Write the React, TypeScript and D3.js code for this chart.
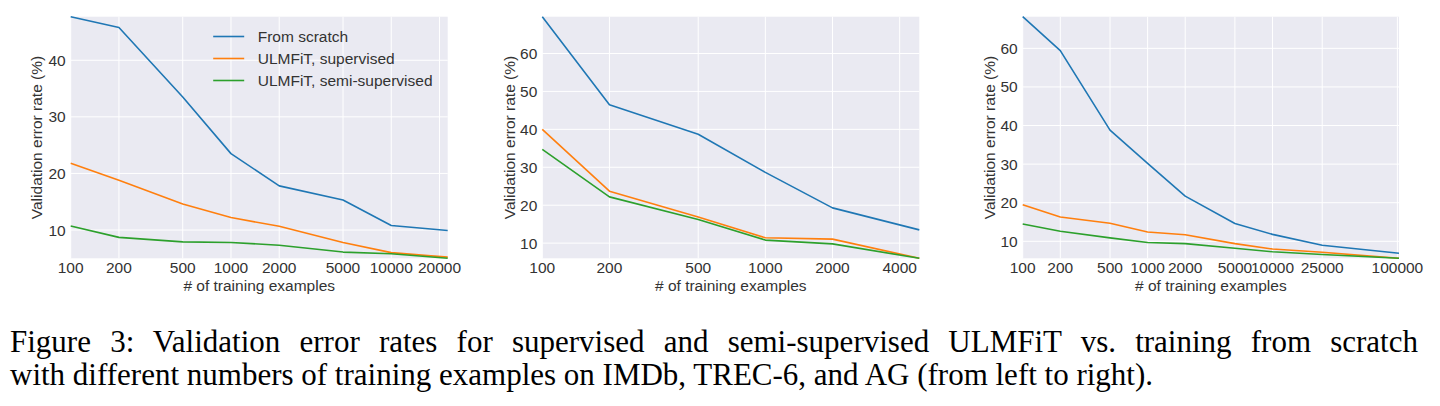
import React, { useLayoutEffect, useRef, useState } from "react";
import * as d3 from "d3";

// ---- Data ----
const seriesNames = ["From scratch", "ULMFiT, supervised", "ULMFiT, semi-supervised"];
const seriesColors = ["#1f77b4", "#ff7f0e", "#2ca02c"];

// IMDb
const imdbX = [100, 200, 500, 1000, 2000, 5000, 10000, 22500];
const imdbScratch = [47.7, 45.8, 33.5, 23.5, 17.8, 15.3, 10.8, 9.9];
const imdbSup = [21.8, 18.8, 14.6, 12.2, 10.65, 7.8, 6.0, 5.2];
const imdbSemi = [10.7, 8.7, 7.9, 7.8, 7.3, 6.1, 5.8, 5.0];
const imdbXTicks = [100, 200, 500, 1000, 2000, 5000, 10000, 20000];
const imdbYTicks = [10, 20, 30, 40];

// TREC-6
const trecX = [100, 200, 500, 1000, 2000, 4900];
const trecScratch = [69.7, 46.5, 38.7, 28.65, 19.3, 13.5];
const trecSup = [40.0, 23.7, 16.9, 11.4, 11.05, 6.0];
const trecSemi = [34.7, 22.2, 16.25, 10.8, 9.8, 6.0];
const trecXTicks = [100, 200, 500, 1000, 2000, 4000];
const trecYTicks = [10, 20, 30, 40, 50, 60];

// AG
const agX = [100, 200, 500, 1000, 2000, 5000, 10000, 25000, 103000];
const agScratch = [68.2, 59.4, 38.8, 30.2, 21.7, 14.6, 11.8, 9.0, 6.9];
const agSup = [19.5, 16.3, 14.7, 12.4, 11.7, 9.4, 8.0, 7.15, 5.6];
const agSemi = [14.5, 12.6, 10.9, 9.7, 9.4, 8.2, 7.3, 6.6, 5.6];
const agXTicks = [100, 200, 500, 1000, 2000, 5000, 10000, 25000, 100000];
const agYTicks = [10, 20, 30, 40, 50, 60];

const xLabel = "# of training examples";
const yLabel = "Validation error rate (%)";
const captionLine1 =
  "Figure 3: Validation error rates for supervised and semi-supervised ULMFiT vs. training from scratch";
const captionLine2 =
  "with different numbers of training examples on IMDb, TREC-6, and AG (from left to right).";

const FONT = "'Liberation Sans', Arial, sans-serif";
const SERIF = "'Liberation Serif', 'Times New Roman', serif";
const TXT = "#333333";
const FS = 15.5;

type PanelProps = {
  left: number;
  right: number;
  top: number;
  bottom: number;
  xs: number[];
  ys: number[][];
  xTicks: number[];
  yTicks: number[];
  yLabelX: number;
  legend?: boolean;
};

function Panel({ left, right, top, bottom, xs, ys, xTicks, yTicks, yLabelX, legend }: PanelProps) {
  const all = ys.flat();
  const x = d3.scaleLog().domain([xs[0], xs[xs.length - 1]]).range([left, right]);
  const y = d3.scaleLinear().domain([d3.min(all)!, d3.max(all)!]).range([bottom, top]);
  const line = d3
    .line<[number, number]>()
    .x((d) => x(d[0]))
    .y((d) => y(d[1]));
  const cy = (top + bottom) / 2;
  return (
    <g>
      <rect x={left} y={top} width={right - left} height={bottom - top} fill="#eaeaf2" />
      {xTicks.map((t) => (
        <line key={"gx" + t} x1={x(t)} x2={x(t)} y1={top} y2={bottom} stroke="#fff" strokeWidth={1} />
      ))}
      {yTicks.map((t) => (
        <line key={"gy" + t} x1={left} x2={right} y1={y(t)} y2={y(t)} stroke="#fff" strokeWidth={1} />
      ))}
      {ys.map((s, i) => (
        <path
          key={"s" + i}
          d={line(xs.map((xv, j) => [xv, s[j]] as [number, number])) || ""}
          fill="none"
          stroke={seriesColors[i]}
          strokeWidth={1.6}
          strokeLinejoin="round"
        />
      ))}
      {xTicks.map((t) => (
        <text
          key={"tx" + t}
          x={x(t)}
          y={bottom + 15}
          textAnchor="middle"
          fontFamily={FONT}
          fontSize={FS}
          fill={TXT}
        >
          {String(t)}
        </text>
      ))}
      {yTicks.map((t) => (
        <text
          key={"ty" + t}
          x={left - 5}
          y={y(t) + 5.5}
          textAnchor="end"
          fontFamily={FONT}
          fontSize={FS}
          fill={TXT}
        >
          {String(t)}
        </text>
      ))}
      <text
        x={(left + right) / 2}
        y={bottom + 33}
        textAnchor="middle"
        fontFamily={FONT}
        fontSize={FS}
        fill={TXT}
      >
        {xLabel}
      </text>
      <text
        transform={`translate(${yLabelX + 5.5},${cy}) rotate(-90)`}
        textAnchor="middle"
        fontFamily={FONT}
        fontSize={FS}
        fill={TXT}
      >
        {yLabel}
      </text>
      {legend &&
        seriesNames.map((n, i) => (
          <g key={"lg" + i}>
            <line
              x1={left + 142.5}
              x2={left + 173.5}
              y1={36.5 + i * 22}
              y2={36.5 + i * 22}
              stroke={seriesColors[i]}
              strokeWidth={1.6}
            />
            <text x={left + 187} y={36.5 + i * 22 + 5.5} fontFamily={FONT} fontSize={FS} fill={TXT}>
              {n}
            </text>
          </g>
        ))}
    </g>
  );
}

export default function App() {
  const top = 16.7;
  const bottom = 258.3;
  const capFS = 31;
  const line1Target = 1408;
  const ref1 = useRef<SVGTextElement>(null);
  const [wordSpacing, setWordSpacing] = useState(0);

  useLayoutEffect(() => {
    if (!ref1.current) return;
    const natural = ref1.current.getComputedTextLength();
    const spaces = captionLine1.split(" ").length - 1;
    setWordSpacing(Math.max(0, (line1Target - natural) / spaces));
  }, []);

  return (
    <svg
      width={1440}
      height={406}
      style={{ position: "absolute", left: 0, top: 0, background: "#fff" }}
    >
      <Panel
        left={70.7}
        right={447.7}
        top={top}
        bottom={bottom}
        xs={imdbX}
        ys={[imdbScratch, imdbSup, imdbSemi]}
        xTicks={imdbXTicks}
        yTicks={imdbYTicks}
        yLabelX={36.7}
        legend
      />
      <Panel
        left={542.3}
        right={919.3}
        top={top}
        bottom={bottom}
        xs={trecX}
        ys={[trecScratch, trecSup, trecSemi]}
        xTicks={trecXTicks}
        yTicks={trecYTicks}
        yLabelX={509.3}
      />
      <Panel
        left={1022.7}
        right={1399}
        top={top}
        bottom={bottom}
        xs={agX}
        ys={[agScratch, agSup, agSemi]}
        xTicks={agXTicks}
        yTicks={agYTicks}
        yLabelX={989.3}
      />
      <text
        ref={ref1}
        x={10}
        y={352}
        fontFamily={SERIF}
        fontSize={capFS}
        fill="#000"
        style={{ wordSpacing: `${wordSpacing}px` }}
      >
        {captionLine1}
      </text>
      <text x={10} y={384.5} fontFamily={SERIF} fontSize={capFS} fill="#000">
        {captionLine2}
      </text>
    </svg>
  );
}
